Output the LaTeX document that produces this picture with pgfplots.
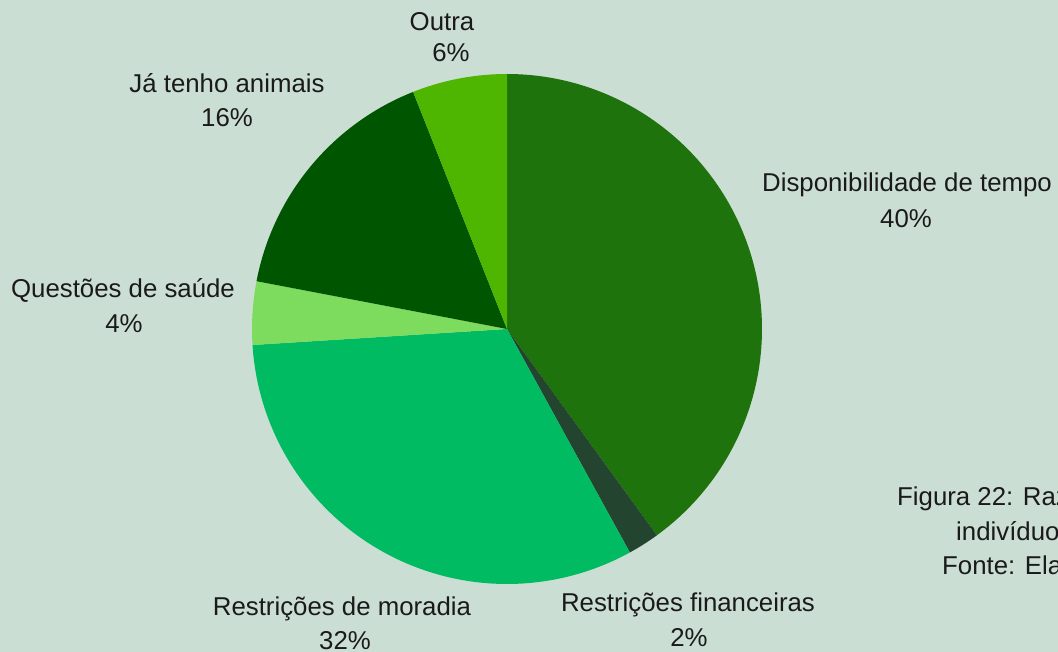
\documentclass[border=0pt]{standalone}
\usepackage{pgfplots}
\pgfplotsset{compat=1.18}
\usepackage{fontspec}
\setmainfont{Liberation Sans}
\definecolor{bg}{HTML}{CBDED3}
\definecolor{cDisp}{HTML}{1E730C}
\definecolor{cFin}{HTML}{23452F}
\definecolor{cMor}{HTML}{00BB62}
\definecolor{cSau}{HTML}{7DDC5E}
\definecolor{cJa}{HTML}{005500}
\definecolor{cOut}{HTML}{4EB500}
\definecolor{txt}{HTML}{1A1A1A}
\tikzset{lbl/.style={font=\fontsize{25.8bp}{30bp}\selectfont, text=txt, anchor=base, inner sep=0pt}}
% #1 cumulative share before the slice (%), #2 share of the slice (%), #3 colour
\newcommand\slice[3]{%
  \addplot[fill=#3, draw=none, domain={90-3.6*(#1+#2)}:{90-3.6*(#1)}, samples=120]
    ({507+255*cos(x)}, {323+255*sin(x)}) -- (axis cs:507,323) -- cycle;
}
\begin{document}
\begin{tikzpicture}
\path[use as bounding box] (0,0) rectangle (1058bp,652bp);
\clip (0,0) rectangle (1058bp,652bp);
\fill[bg] (0,0) rectangle (1058bp,652bp);
\begin{axis}[at={(0,0)}, anchor=south west, width=1058bp, height=652bp,
  scale only axis, xmin=0, xmax=1058, ymin=0, ymax=652, hide axis, clip=false]
\slice{0}{40}{cDisp}
\slice{40}{2}{cFin}
\slice{42}{32}{cMor}
\slice{74}{4}{cSau}
\slice{78}{16}{cJa}
\slice{94}{6}{cOut}
\node[lbl] at (axis cs:907,460) {Disponibilidade de tempo};
\node[lbl] at (axis cs:906,424) {40\%};
\node[lbl] at (axis cs:688,40) {Restrições financeiras};
\node[lbl] at (axis cs:689,6) {2\%};
\node[lbl] at (axis cs:342,36) {Restrições de moradia};
\node[lbl] at (axis cs:345,3) {32\%};
\node[lbl] at (axis cs:123,354) {Questões de saúde};
\node[lbl] at (axis cs:124,319) {4\%};
\node[lbl] at (axis cs:227,559) {Já tenho animais};
\node[lbl] at (axis cs:227,525) {16\%};
\node[lbl] at (axis cs:442,621) {Outra};
\node[lbl] at (axis cs:451,590) {6\%};
\node[lbl, anchor=base west] at (axis cs:897,146) {Figura 22: Razões};
\node[lbl, anchor=base west] at (axis cs:956,111) {indivíduos};
\node[lbl, anchor=base west] at (axis cs:942,77) {Fonte: Elaboração};
\end{axis}
\end{tikzpicture}
\end{document}
